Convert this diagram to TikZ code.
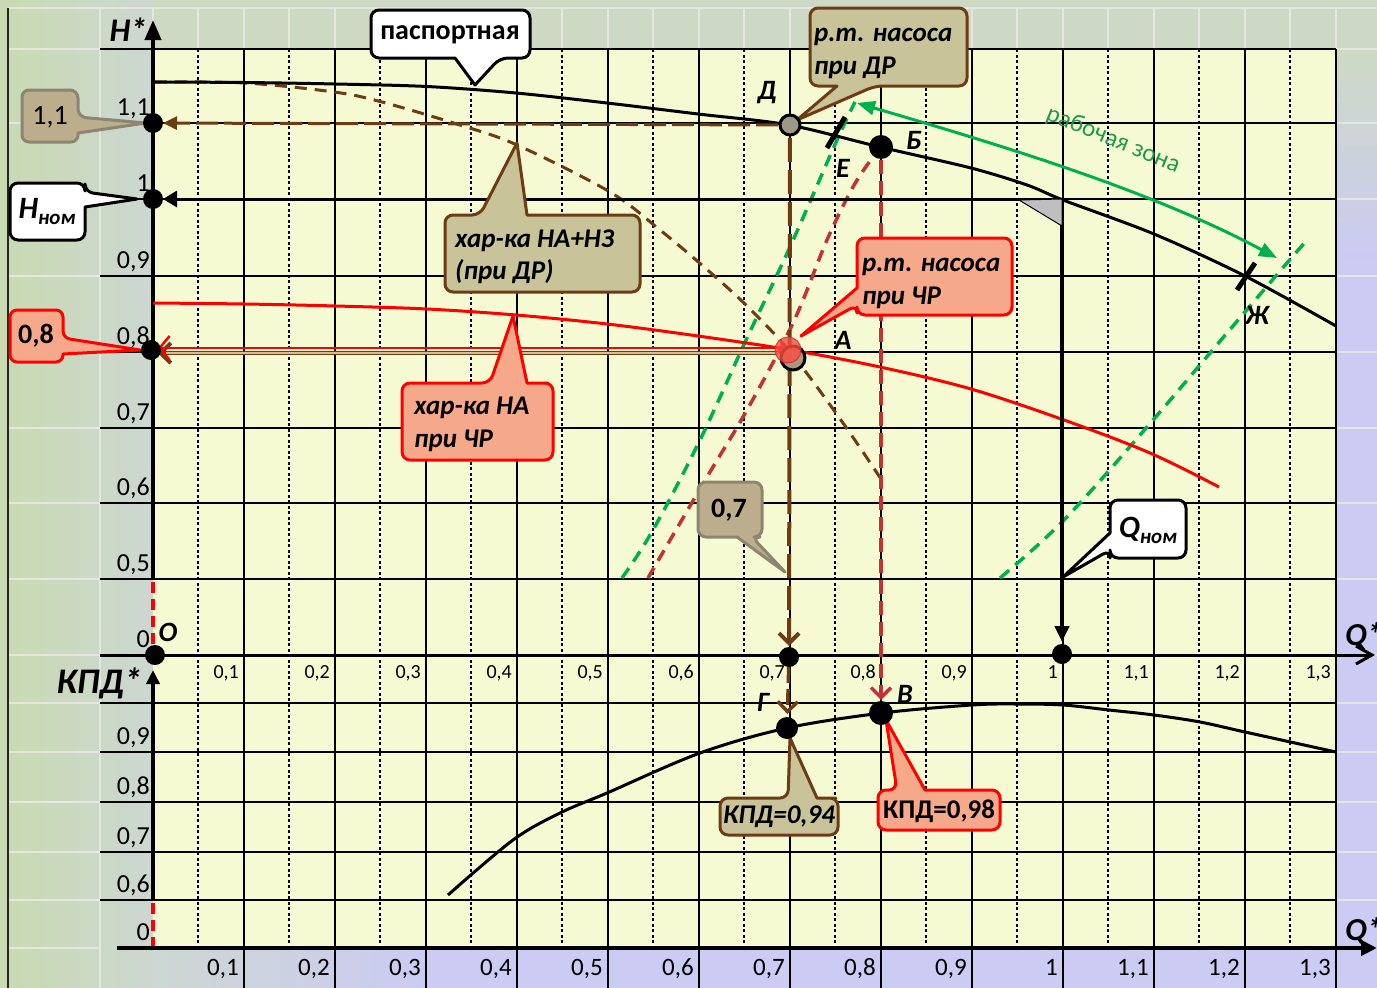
\documentclass[tikz,border=0pt]{standalone}
\usepackage{fontspec}
\setmainfont{Carlito}
\usetikzlibrary{arrows.meta}
\definecolor{chartbg}{HTML}{F6FAD3}
\definecolor{tanfill}{HTML}{C9C39A}
\definecolor{brn}{HTML}{6E3C14}
\definecolor{salmon}{HTML}{F6A88B}
\definecolor{dred}{HTML}{C33232}
\definecolor{grn}{HTML}{00B050}
\definecolor{grntxt}{HTML}{1E9A4A}
\definecolor{lav}{HTML}{CBCBF3}
\definecolor{gg}{HTML}{CED9C4}
\definecolor{lg}{HTML}{C9D9B1}
\definecolor{lb}{HTML}{CDD7D2}
\definecolor{cellline}{HTML}{E4E6E0}
\definecolor{greyedge}{HTML}{8A8672}
\definecolor{greytan}{HTML}{BCAE8C}
\definecolor{pipetan}{HTML}{D9BE92}
\newcommand\fsz[2]{\fontsize{#1}{#2}\selectfont}
\begin{document}
\begin{tikzpicture}[x=1pt,y=-1pt,line join=round,
  grid/.style={line width=2pt,black},
  halfgrid/.style={line width=1.6pt,black,dash pattern=on 3pt off 2.5pt},
  cell/.style={cellline,line width=1.5pt},
  bubblew/.style={draw=black,fill=white,line width=3pt},
  bubblet/.style={draw=brn,fill=tanfill,line width=3pt},
  bubbler/.style={draw=red,fill=salmon,line width=3pt},
  bubbleg/.style={draw=greyedge,fill=greytan,line width=3pt},
  ptlbl/.style={font=\fsz{28}{30}\bfseries\itshape},
  tick/.style={font=\fsz{26}{28},anchor=base east,inner sep=0pt},
  bottick/.style={font=\fsz{25}{28},anchor=base east,inner sep=0pt},
  smalltick/.style={font=\fsz{20}{22},anchor=base east,inner sep=0pt},
  btxt/.style={font=\fsz{27}{30}\bfseries\itshape,anchor=base west,inner sep=0pt},
  barb/.style={-{Straight Barb[length=10pt,width=20pt]}}
]
\clip (0,0) rectangle (1377,988);

% ---- surroundings of the chart
\fill[gg] (0,0) rectangle (1377,988);
\shade[left color=lg,right color=lb] (0,0) rectangle (153,988);
\shade[left color=gg,right color=gg!90!lb] (153,0) rectangle (1377,49);
\shade[top color=gg,bottom color=lav] (1336,49) rectangle (1377,260);
\fill[lav] (1336,260) rectangle (1377,988);
\shade[left color=lb,right color=lav] (153,948) rectangle (430,988);
\fill[lav] (430,948) rectangle (1336,988);

% cell borders of the sheet
\draw[cell] (8,8) -- (1377,8);
\draw[cell] (100,8) -- (100,988);
\foreach \y in {49,123,199,276,352,428,503,579,655,703,752,802,852,900,948}{
  \draw[cell] (8,\y) -- (100,\y);
  \draw[cell] (1336,\y) -- (1377,\y);
}
\foreach \k in {0,...,13}{
  \draw[cell] (153+91*\k,8) -- (153+91*\k,49);
}
\foreach \k in {0,...,12}{
  \draw[cell] (198+91*\k,8) -- (198+91*\k,49);
}
\draw[black!85,line width=1.5pt] (8,8) -- (8,988);

% ---- chart field and grid
\fill[chartbg] (153,49) rectangle (1336,948);
\foreach \k in {0,...,12}{
  \draw[white,line width=1.6pt] (198+91*\k,49) -- (198+91*\k,948);
  \draw[halfgrid] (198+91*\k,49) -- (198+91*\k,948);
}
\foreach \k in {1,...,13}{
  \draw[grid] (153+91*\k,49) -- (153+91*\k,988);
}
\foreach \y in {49,123,199,276,352,428,503,579,703,752,802,852,900}{
  \draw[grid] (100,\y) -- (1336,\y);
}

% ---- axes
\draw[line width=3pt,-{Straight Barb[length=16pt,width=18pt]}] (100,655) -- (1375,655);
\draw[line width=4pt,-{Triangle[length=16pt,width=15pt]}] (117,948) -- (1377,948);
\draw[line width=4pt,-{Triangle[length=20pt,width=16pt]}] (153,579) -- (153,20);
\draw[red,line width=3.5pt,dash pattern=on 11pt off 6pt] (153,582) -- (153,647);
\draw[line width=4pt,-{Triangle[length=14pt,width=13pt]}] (153,900) -- (153,670);
\draw[red,line width=3.5pt,dash pattern=on 11pt off 6pt] (153,903) -- (153,946);

% ---- named points
\coordinate (D) at (790,125);
\coordinate (B) at (881,147);
\coordinate (A) at (791,352);
\coordinate (G) at (787,728);
\coordinate (V) at (881,713);
\coordinate (O) at (155,655);
\coordinate (h11) at (153,123);
\coordinate (hn) at (153,199);
\coordinate (h08) at (151,350);
\coordinate (q07) at (789,657);
\coordinate (qn) at (1062,654);
\coordinate (Hq) at (1062,199);

% ---- characteristic curves
% system curves
\draw[grn,line width=3.5pt,dash pattern=on 12pt off 8pt] plot[smooth,tension=0.6] coordinates
  {(622,578) (653,530) (700,440) (747,338) (790,247) (837,140) (855,102)};
\draw[grn,line width=3.5pt,dash pattern=on 12pt off 8pt] plot[smooth,tension=0.6] coordinates
  {(1000,578) (1064,520) (1147,427) (1227,333) (1287,263) (1307,240)};
\draw[dred,line width=3.5pt,dash pattern=on 12pt off 8pt] plot[smooth,tension=0.6] coordinates
  {(648,578) (707,477) (747,410) (793,323) (827,240) (853,187) (873,157)};
% pump with throttle
\draw[brn,line width=3pt,dash pattern=on 12pt off 8pt] plot[smooth,tension=0.55] coordinates
  {(155,82) (245,83) (334,92) (382,102) (460,125) (517,145) (610,192) (660,230) (703,266) (747,306) (791,353) (843,423) (885,485)};
% pump at reduced speed
\draw[red,line width=3pt] plot[smooth,tension=0.55] coordinates
  {(153,303) (245,304) (336,306) (427,309) (516,315) (607,324) (698,336) (791,350) (880,367) (971,389) (1064,420) (1150,453) (1219,487)};
% passport curve
\draw[black,line width=3pt] plot[smooth,tension=0.5] coordinates
  {(153,82) (245,82.5) (336,84) (427,86.5) (516,93) (607,103) (698,114) (789,125) (880,147) (971,168) (1027,185) (1063,200) (1154,234) (1245,276) (1336,326)};
% efficiency curve
\draw[black,line width=3pt] plot[smooth,tension=0.55] coordinates
  {(448,895) (513,840) (560,813) (607,793) (700,753) (787,728) (882,713) (972,705) (1017,704) (1063,705) (1109,710) (1154,715) (1200,722) (1245,732) (1336,752)};

% ---- construction lines
\draw[brn,line width=3pt,dash pattern=on 22pt off 6pt,-{Triangle[length=14pt,width=13pt]},shorten <=12pt,shorten >=10pt] (D) -- (h11);
\draw[brn,line width=4pt,dash pattern=on 24pt off 8pt,barb,shorten <=13pt,shorten >=11pt] (D) -- (q07);
\draw[brn,line width=3.5pt,dash pattern=on 16pt off 6pt,barb,shorten <=10pt,shorten >=14pt] (q07) -- (G);
\draw[dred,line width=3.5pt,dash pattern=on 14pt off 7pt,barb,shorten <=13pt,shorten >=13pt] (B) -- (V);
\coordinate (Ar) at (776,348);
\coordinate (h08r) at (158,348);
\coordinate (Ab) at (778,353);
\coordinate (h08b) at (158,353);
\draw[brn,line width=4pt,barb] (Ab) -- (h08b);
\draw[pipetan,line width=1.4pt,shorten >=8pt] (Ab) -- (h08b);
\draw[red,line width=2.5pt,-{Straight Barb[length=10pt,width=24pt]}] (Ar) -- (h08r);
\draw[line width=3pt,-{Triangle[length=14pt,width=16pt]},shorten >=10pt] (Hq) -- (hn);
\draw[line width=4pt,-{Triangle[length=16pt,width=14pt]},shorten >=12pt] (Hq) -- (qn);
\filldraw[fill=black!25,draw=black,line width=1pt] (1019,200) -- (Hq) -- (1062,226) -- cycle;

% working zone
\coordinate (wz1) at (857,103);
\coordinate (wz2) at (1277,258);
\draw[grn,line width=3pt,{Triangle[length=18pt,width=14pt]}-{Triangle[length=18pt,width=14pt]}]
  (wz1) .. controls (1000,145) and (1150,190) .. (wz2);
\node[grntxt,font=\fsz{25}{28},rotate=-22] (wzt) at (1113,140) {рабочая зона};

% zone limits
\draw[line width=5pt] (827,148) -- (845,117);
\draw[line width=5pt] (1237,290) -- (1255,263);

% ---- callouts
\coordinate (tipP) at (475,85);
\draw[bubblew] (450,10) [rounded corners=8pt] -- (530,10) -- (530,58) -- (500,58) [sharp corners] -- (tipP) -- (455,58) [rounded corners=8pt] -- (371,58) -- (371,10) -- cycle;
\node[font=\fsz{28}{30}\bfseries] (pasp) at (450,35) {паспортная};

\coordinate (tipD) at (797,120);
\draw[bubblet] (888,8) [rounded corners=8pt] -- (967,8) -- (967,86) -- (875,86) [sharp corners] -- (tipD) -- (837,86) [rounded corners=8pt] -- (810,86) -- (810,8) -- cycle;
\node[btxt] (rtd1) at (814,41) {р.т. насоса};
\node[btxt] (rtd2) at (814,74) {при ДР};

\coordinate (tip11) at (146,123);
\draw[bubbleg] (50,90) [rounded corners=8pt] -- (78,90) -- (78,117) [sharp corners] -- (tip11) -- (78,133) [rounded corners=7pt] -- (78,142) -- (22,142) -- (22,90) -- cycle;
\node[font=\fsz{28}{30}] (t11) at (50,117) {1,1};

\coordinate (tipH) at (137,199);
\draw[bubblew] (48,183) [rounded corners=8pt] -- (85,183) -- (85,192) [sharp corners] -- (tipH) -- (85,207) [rounded corners=8pt] -- (85,240) -- (10,240) -- (10,183) -- cycle;
\node[font=\fsz{31}{31}\bfseries\itshape] (thn) at (47,212) {H\raisebox{-6pt}{\fsz{21}{21}ном}};

\coordinate (tipNZ) at (517,143);
\draw[bubblet] (600,215) [rounded corners=8pt] -- (640,215) -- (640,292) -- (445,292) -- (445,215) -- (480,215) [sharp corners] -- (tipNZ) -- (527,215) [rounded corners=8pt] -- cycle;
\node[btxt] (nz1) at (455,247) {хар-ка НА+НЗ};
\node[btxt] (nz2) at (455,279) {(при ДР)};

\coordinate (tipA) at (801,336);
\draw[bubbler] (930,238) [rounded corners=8pt] -- (1012,238) -- (1012,315) -- (857,315) -- (857,305) [sharp corners] -- (tipA) -- (857,288) [rounded corners=8pt] -- (857,238) -- cycle;
\node[btxt] (rtc1) at (862,271) {р.т. насоса};
\node[btxt] (rtc2) at (862,304) {при ЧР};

\coordinate (tip08) at (140,350);
\draw[bubbler] (36,310) [rounded corners=7pt] -- (63,310) -- (63,338) [sharp corners] -- (tip08) -- (63,354) [rounded corners=7pt] -- (63,362) -- (10,362) -- (10,310) -- cycle;
\node[font=\fsz{28}{30}\bfseries] (t08) at (36,336) {0,8};

\coordinate (tipCR) at (513,316);
\draw[bubbler] (540,383) [rounded corners=8pt] -- (553,383) -- (553,460) -- (402,460) -- (402,383) -- (490,383) [sharp corners] -- (tipCR) -- (527,383) [rounded corners=8pt] -- cycle;
\node[btxt] (cr1) at (414,414) {хар-ка НА};
\node[btxt] (cr2) at (414,447) {при ЧР};

\coordinate (tip07) at (785,572);
\draw[bubbleg] (730,482) [rounded corners=8pt] -- (762,482) -- (762,537) -- (752,537) [sharp corners] -- (tip07) -- (737,537) [rounded corners=8pt] -- (698,537) -- (698,482) -- cycle;
\node[font=\fsz{28}{30}\bfseries] (t07) at (729,510) {0,7};

\coordinate (tipQ) at (1063,577);
\draw[bubblew] (1150,500) [rounded corners=8pt] -- (1186,500) -- (1186,558) -- (1110,558) -- (1110,550) [sharp corners] -- (tipQ) -- (1110,533) [rounded corners=8pt] -- (1110,500) -- cycle;
\node[font=\fsz{31}{31}\bfseries\itshape] (tqn) at (1148,530) {Q\raisebox{-6pt}{\fsz{21}{21}ном}};

\coordinate (tipG) at (790,738);
\draw[bubblet] (828,798) [rounded corners=8pt] -- (838,798) -- (838,835) -- (720,835) -- (720,798) -- (788,798) [sharp corners] -- (tipG) -- (817,798) [rounded corners=8pt] -- cycle;
\node[font=\fsz{27}{29}\bfseries\itshape] (k94) at (779,817) {КПД=0,94};

\coordinate (tipV) at (886,720);
\draw[bubbler] (960,790) [rounded corners=8pt] -- (1000,790) -- (1000,830) -- (878,830) -- (878,790) -- (897,790) [sharp corners] -- (tipV) -- (925,790) [rounded corners=8pt] -- cycle;
\node[font=\fsz{27}{29}\bfseries] (k98) at (939,811) {КПД=0,98};

% ---- points
\foreach \p in {h11,hn,h08,O,q07,qn}{ \fill (\p) circle (10pt); }
\fill (B) circle (12pt);
\fill (G) circle (11pt);
\fill (V) circle (12pt);
\filldraw[fill=greytan!50!gray,draw=black,line width=3pt] (D) circle (10pt);
\filldraw[fill=brn!55!white,draw=black,line width=3pt] (793,358) circle (12pt);
\filldraw[fill=red!55!salmon,draw=dred,line width=1pt,opacity=0.8] (788,350) circle (13pt);

% ---- point letters
\node[ptlbl] (lD) at (767,93) {Д};
\node[ptlbl] (lE) at (843,168) {Е};
\node[ptlbl] (lB) at (914,140) {Б};
\node[ptlbl] (lA) at (843,340) {А};
\node[ptlbl] (lZh) at (1257,315) {Ж};
\node[ptlbl] (lG) at (763,702) {Г};
\node[ptlbl] (lV) at (905,694) {В};
\node[ptlbl] (lO) at (168,632) {О};

% ---- axis titles
\node[font=\fsz{33}{35}\bfseries\itshape,anchor=base east,inner sep=0pt] (tH) at (147,41) {H*};
\node[font=\fsz{36}{38}\bfseries\itshape,anchor=base east,inner sep=0pt] (tK) at (142,693) {КПД*};
\node[font=\fsz{32}{34}\bfseries\itshape,anchor=base west,inner sep=0pt] (tQ1) at (1345,645) {Q*};
\node[font=\fsz{32}{34}\bfseries\itshape,anchor=base west,inner sep=0pt] (tQ2) at (1345,940) {Q*};

% ---- tick labels
\foreach \y/\t in {123/{1,1},199/{1},276/{0,9},352/{0,8},428/{0,7},503/{0,6},579/{0,5},655/{0}}{
  \node[tick] (hl\y) at (150,\y-8) {\t};
}
\foreach \y/\t in {752/{0,9},802/{0,8},852/{0,7},900/{0,6},948/{0}}{
  \node[tick] (kl\y) at (150,\y-8) {\t};
}
\foreach \k/\t in {1/{0,1},2/{0,2},3/{0,3},4/{0,4},5/{0,5},6/{0,6},7/{0,7},8/{0,8},9/{0,9},10/{1},11/{1,1},12/{1,2},13/{1,3}}{
  \node[smalltick] (qa\k) at (148+91*\k,678) {\t};
  \node[bottick] (qb\k) at (148+91*\k,975) {\t};
}
\end{tikzpicture}
\end{document}
